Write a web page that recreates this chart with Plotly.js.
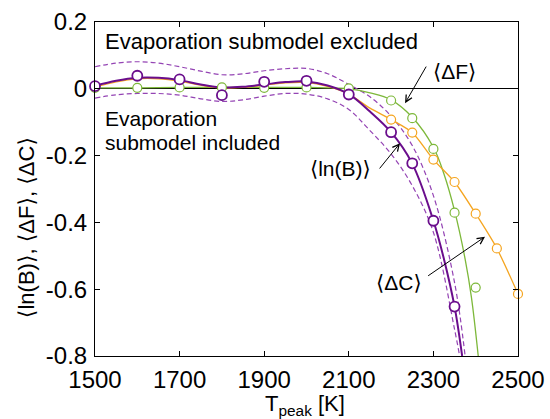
<!DOCTYPE html>
<html>
<head>
<meta charset="utf-8">
<script src="https://cdn.plot.ly/plotly-3.0.1.min.js"></script>
<style>html,body{margin:0;padding:0;background:#fff;}#chart{width:550px;height:419px;}</style>
</head>
<body>
<div id="chart"></div>
<script>
// ---- data ----
// fitted curves
const T_lnB_fit = [1500,1550,1600,1650,1700,1750,1800,1850,1900,1950,2000,2050,2100,2150,2200,2250,2300,2325,2350,2368];
const lnB_fit   = [0.009,0.024,0.033,0.033,0.026,0.013,0.004,0.006,0.013,0.020,0.022,0.010,-0.016,-0.068,-0.130,-0.224,-0.395,-0.510,-0.652,-0.800];
const T_lnB_up  = [1500,1550,1600,1650,1700,1750,1800,1850,1900,1950,2000,2050,2100,2150,2200,2250,2300,2350,2375];
const lnB_up    = [0.066,0.077,0.081,0.077,0.066,0.053,0.042,0.045,0.054,0.060,0.061,0.045,0.013,-0.024,-0.082,-0.170,-0.320,-0.580,-0.800];
const T_lnB_lo  = [1500,1550,1600,1650,1700,1750,1800,1850,1900,1950,2000,2050,2100,2150,2200,2250,2300,2350,2362];
const lnB_lo    = [-0.028,-0.018,-0.014,-0.014,-0.019,-0.030,-0.038,-0.033,-0.022,-0.014,-0.016,-0.030,-0.062,-0.125,-0.195,-0.290,-0.430,-0.720,-0.800];
const T_dC_line = [1500,1550,1600,1650,1700,1750,1800,1850,1900,1950,2000,2050,2100,2150,2200,2250,2300,2350,2400,2450,2500];
const dC_line   = [0.006,0.021,0.030,0.030,0.023,0.011,0.002,0.004,0.011,0.018,0.019,0.007,-0.016,-0.058,-0.092,-0.131,-0.212,-0.279,-0.374,-0.478,-0.614];
const T_dF_line = [1500,1600,1700,1800,1900,2000,2050,2100,2150,2200,2250,2300,2325,2350,2375,2390,2406];
const dF_line   = [0.003,0.003,0.004,0.004,0.004,0.004,0.003,0.000,-0.012,-0.033,-0.085,-0.175,-0.255,-0.365,-0.510,-0.625,-0.800];
// simulated points
const T_lnB_pts = [1500,1600,1700,1800,1900,2000,2100,2200,2250,2300,2350];
const lnB_pts   = [0.008,0.039,0.028,-0.019,0.021,0.024,-0.017,-0.130,-0.223,-0.395,-0.652];
const T_dF_pts  = [1500,1600,1700,1800,1900,2000,2100,2200,2250,2300,2350,2400];
const dF_pts    = [0.003,0.003,0.004,0.004,0.003,0.004,0.001,-0.035,-0.088,-0.180,-0.371,-0.595];
const T_dC_pts  = [2200,2250,2300,2350,2400,2450,2500];
const dC_pts    = [-0.092,-0.131,-0.212,-0.279,-0.374,-0.478,-0.614];
// axis ticks
const xTicks = [1500,1700,1900,2100,2300,2500];
const yTickVals = [-0.8,-0.6,-0.4,-0.2,0,0.2];
const yTickText = ['-0.8','-0.6','-0.4','-0.2','0','0.2'];

const PURPLE = '#6a0d8c', PURPLE_D = '#9444b4', GREEN = '#7db83a', ORANGE = '#f5a520';

const traces = [
  {x:T_lnB_up, y:lnB_up, mode:'lines', line:{color:PURPLE_D, width:1.2, dash:'5px,3px', shape:'spline'}, hoverinfo:'skip'},
  {x:T_lnB_lo, y:lnB_lo, mode:'lines', line:{color:PURPLE_D, width:1.2, dash:'5px,3px', shape:'spline'}, hoverinfo:'skip'},
  {x:T_dF_line, y:dF_line, mode:'lines', line:{color:GREEN, width:1.3, shape:'spline'}},
  {x:T_dC_line, y:dC_line, mode:'lines', line:{color:ORANGE, width:1.3, shape:'spline', smoothing:0.7}},
  {x:T_lnB_fit, y:lnB_fit, mode:'lines', line:{color:PURPLE, width:2, shape:'spline'}},
  {x:T_dF_pts, y:dF_pts, mode:'markers', cliponaxis:false, marker:{symbol:'circle', size:9, color:'#fff', line:{color:GREEN, width:1.2}}},
  {x:T_dC_pts, y:dC_pts, mode:'markers', cliponaxis:false, marker:{symbol:'circle', size:9, color:'#fff', line:{color:ORANGE, width:1.2}}},
  {x:T_lnB_pts, y:lnB_pts, mode:'markers', cliponaxis:false, marker:{symbol:'circle', size:10, color:'#fff', line:{color:PURPLE, width:1.8}}}
];

const F = 'Liberation Sans, Arial, DejaVu Sans, sans-serif';
const arrow = (x, y, ax, ay) => ({x:x, y:y, ax:ax, ay:ay, xref:'x', yref:'y', axref:'x', ayref:'y',
  text:'', showarrow:true, arrowhead:5, arrowsize:1.3, arrowwidth:1, arrowcolor:'#000', standoff:0, startstandoff:0});
const label = (x, y, t, xa, size) => ({x:x, y:y, xref:'x', yref:'y', text:t, showarrow:false,
  xanchor:xa||'center', yanchor:'middle', font:{family:F, size:size||21, color:'#000'}});

const layout = {
  width:550, height:419,
  margin:{l:95, r:32, t:22, b:63, pad:0},
  paper_bgcolor:'#fff', plot_bgcolor:'#fff',
  showlegend:false,
  font:{family:F, size:24, color:'#000'},
  xaxis:{range:[1500,2500], tickvals:xTicks, ticks:'inside', ticklen:5, tickwidth:1, tickcolor:'#000',
    showline:true, linecolor:'#000', linewidth:1, mirror:'ticks', showgrid:false, zeroline:false,
    tickfont:{family:F, size:24}, ticklabelstandoff:2},
  yaxis:{range:[-0.8,0.2], tickvals:yTickVals, ticktext:yTickText, ticks:'inside', ticklen:5, tickwidth:1, tickcolor:'#000',
    showline:true, linecolor:'#000', linewidth:1, mirror:'ticks', showgrid:false,
    zeroline:true, zerolinecolor:'#000', zerolinewidth:1, tickfont:{family:F, size:24}, ticklabelstandoff:2},
  annotations:[
    label(1519, 0.142, 'Evaporation submodel excluded', 'left', 22),
    label(1519, -0.089, 'Evaporation', 'left', 21),
    label(1519, -0.162, 'submodel included', 'left', 21),
    label(2351, 0.051, '⟨ΔF⟩'),
    label(2157, -0.240, '⟨ln(B)⟩', 'right'),
    label(2219, -0.581, '⟨ΔC⟩'),
    arrow(2233, -0.043, 2285, 0.071),
    arrow(2221, -0.163, 2170, -0.243),
    arrow(2422, -0.443, 2284, -0.563),
    {x:0.496, y:-0.147, xref:'paper', yref:'paper', text:'T<sub>peak</sub> [K]', showarrow:false,
      xanchor:'center', yanchor:'middle', font:{family:F, size:22, color:'#000'}},
    {x:-0.163, y:0.383, xref:'paper', yref:'paper', text:'⟨ln(B)⟩, ⟨ΔF⟩, ⟨ΔC⟩', textangle:-90, showarrow:false,
      xanchor:'center', yanchor:'middle', font:{family:F, size:22, color:'#000'}}
  ]
};

Plotly.newPlot('chart', traces, layout, {displayModeBar:false, staticPlot:true});
</script>
</body>
</html>
